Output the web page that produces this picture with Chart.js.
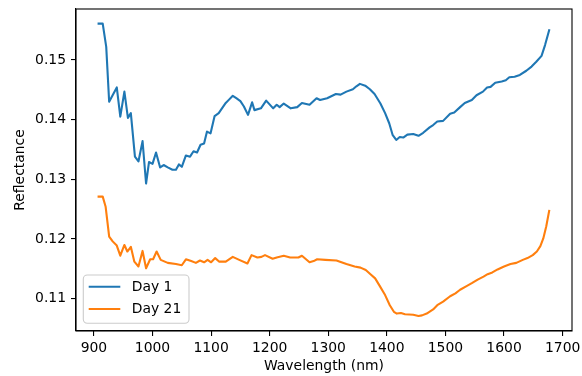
<!DOCTYPE html>
<html>
<head>
<meta charset="utf-8">
<script src="https://cdn.jsdelivr.net/npm/chart.js@4/dist/chart.umd.min.js"></script>
<style>
html,body{margin:0;padding:0;background:#fff;}
canvas{display:block;}
</style>
</head>
<body>
<canvas id="c" width="582" height="376"></canvas>
<script>
const seriesLabels = ["Day 1", "Day 21"];
const wavelengthsDay1 = [908,915,921,926,939,945,952,958,963,970,976,983,989,994,1000,1006,1013,1019,1026,1034,1040,1045,1050,1057,1064,1070,1076,1082,1088,1093,1099,1106,1113,1120,1125,1131,1137,1143,1150,1156,1163,1170,1174,1185,1194,1206,1212,1217,1224,1236,1247,1255,1268,1280,1286,1298,1313,1321,1331,1342,1348,1354,1363,1371,1379,1389,1397,1404,1410,1416,1422,1428,1435,1445,1454,1462,1473,1479,1486,1496,1508,1515,1525,1533,1545,1553,1564,1571,1577,1585,1596,1603,1609,1618,1627,1638,1647,1655,1664,1670,1677];
const reflectanceDay1 = [0.1561,0.1561,0.1522,0.1430,0.1454,0.1405,0.1447,0.1403,0.1411,0.1338,0.1330,0.1364,0.1293,0.1329,0.1326,0.1345,0.1320,0.1324,0.1320,0.1316,0.1316,0.1325,0.1321,0.1340,0.1338,0.1347,0.1345,0.1358,0.1360,0.1380,0.1377,0.1406,0.1411,0.1421,0.1428,0.1434,0.1440,0.1436,0.1431,0.1422,0.1408,0.1429,0.1416,0.1419,0.1432,0.1419,0.1425,0.1421,0.1427,0.1419,0.1421,0.1428,0.1425,0.1436,0.1433,0.1436,0.1443,0.1442,0.1447,0.1451,0.1456,0.1460,0.1457,0.1451,0.1443,0.1427,0.1411,0.1394,0.1374,0.1366,0.1371,0.1370,0.1375,0.1376,0.1373,0.1378,0.1387,0.1391,0.1397,0.1398,0.1410,0.1412,0.1421,0.1428,0.1433,0.1441,0.1447,0.1454,0.1455,0.1462,0.1464,0.1466,0.1471,0.1472,0.1475,0.1482,0.1489,0.1497,0.1507,0.1525,0.1550];
const wavelengthsDay21 = [908,915,920,926,932,939,945,952,957,963,969,976,983,989,996,1001,1007,1014,1026,1040,1050,1057,1066,1074,1081,1088,1094,1100,1107,1114,1125,1137,1148,1162,1169,1179,1186,1192,1205,1212,1224,1235,1249,1255,1268,1275,1281,1295,1314,1320,1331,1345,1355,1364,1372,1380,1388,1397,1405,1412,1417,1424,1431,1445,1454,1460,1468,1479,1486,1496,1508,1517,1525,1536,1545,1555,1565,1572,1580,1589,1600,1611,1621,1632,1640,1649,1656,1662,1667,1672,1677];
const reflectanceDay21 = [0.1271,0.1271,0.1254,0.1204,0.1196,0.1189,0.1172,0.1190,0.1179,0.1187,0.1162,0.1154,0.1180,0.1151,0.1166,0.1166,0.1179,0.1165,0.1160,0.1158,0.1156,0.1166,0.1163,0.1160,0.1164,0.1161,0.1165,0.1161,0.1168,0.1162,0.1162,0.1170,0.1165,0.1159,0.1173,0.1169,0.1170,0.1173,0.1167,0.1169,0.1172,0.1169,0.1169,0.1172,0.1161,0.1163,0.1166,0.1165,0.1164,0.1162,0.1158,0.1154,0.1152,0.1148,0.1141,0.1134,0.1121,0.1106,0.1089,0.1078,0.1075,0.1076,0.1074,0.1073,0.1071,0.1072,0.1075,0.1082,0.1089,0.1095,0.1104,0.1109,0.1115,0.1121,0.1126,0.1132,0.1137,0.1141,0.1144,0.1149,0.1154,0.1158,0.1160,0.1165,0.1168,0.1173,0.1179,0.1188,0.1201,0.1221,0.1247];
const xTicks = [900,1000,1100,1200,1300,1400,1500,1600,1700];
const yTicks = [0.11,0.12,0.13,0.14,0.15];
const xTitle = "Wavelength (nm)";
const yTitle = "Reflectance";
const colors = ["#1f77b4", "#ff7f0e"];

const FONT = "'DejaVu Sans', sans-serif";
const FS = 13.9;

function pts(xs, ys){ return xs.map((x,i)=>({x:x, y:ys[i]})); }

const framePlugin = {
  id: 'frame',
  afterDatasetsDraw(chart){
    const a = chart.chartArea, ctx = chart.ctx;
    ctx.save();
    ctx.strokeStyle = '#000';
    ctx.lineWidth = 1.1;
    ctx.strokeRect(a.left, a.top, a.right - a.left, a.bottom - a.top);
    ctx.restore();
  }
};

const legendPlugin = {
  id: 'mplLegend',
  afterDraw(chart){
    const ctx = chart.ctx;
    const a = chart.chartArea;
    const bx = a.left + 7.3, by = a.bottom - 56, bw = 105.7, bh = 48.3;
    ctx.save();
    ctx.beginPath();
    ctx.roundRect(bx, by, bw, bh, 4);
    ctx.fillStyle = 'rgba(255,255,255,0.8)';
    ctx.fill();
    ctx.strokeStyle = '#cccccc';
    ctx.lineWidth = 1.1;
    ctx.stroke();
    ctx.font = FS + 'px ' + FONT;
    ctx.textBaseline = 'middle';
    ctx.fillStyle = '#000';
    chart.data.datasets.forEach((ds, i) => {
      const y = by + 11.7 + i * 22.3;
      ctx.beginPath();
      ctx.moveTo(bx + 5.4, y);
      ctx.lineTo(bx + 37, y);
      ctx.strokeStyle = ds.borderColor;
      ctx.lineWidth = 2.08;
      ctx.stroke();
      ctx.fillText(ds.label, bx + 48.4, y + 0.5);
    });
    ctx.restore();
  }
};

new Chart(document.getElementById('c'), {
  type: 'line',
  data: {
    datasets: [
      { label: seriesLabels[0], data: pts(wavelengthsDay1, reflectanceDay1), borderColor: colors[0], backgroundColor: colors[0] },
      { label: seriesLabels[1], data: pts(wavelengthsDay21, reflectanceDay21), borderColor: colors[1], backgroundColor: colors[1] }
    ]
  },
  options: {
    responsive: false,
    animation: false,
    events: [],
    layout: { padding: { top: 9, right: 10, left: 0, bottom: 0 } },
    elements: {
      line: { borderWidth: 2.1, tension: 0, borderJoinStyle: 'round', borderCapStyle: 'square', fill: false },
      point: { radius: 0 }
    },
    plugins: { legend: { display: false }, tooltip: { enabled: false } },
    scales: {
      x: {
        type: 'linear',
        min: 869.4,
        max: 1716,
        afterBuildTicks: s => { s.ticks = xTicks.map(v => ({ value: v })); },
        afterFit: s => { s.height = 45; s.paddingLeft = 0; s.paddingRight = 0; },
        grid: { drawOnChartArea: false, drawTicks: true, tickLength: 5, color: '#000', lineWidth: 1.1 },
        border: { display: true, color: '#000', width: 1.1 },
        ticks: { color: '#000', font: { family: FONT, size: FS }, padding: 4, maxRotation: 0, autoSkip: false, callback: v => String(v) },
        title: { display: true, text: xTitle, color: '#000', font: { family: FONT, size: FS }, padding: { top: 0, bottom: 1 } }
      },
      y: {
        type: 'linear',
        min: 0.10458,
        max: 0.15855,
        afterBuildTicks: s => { s.ticks = yTicks.map(v => ({ value: v })); },
        afterFit: s => { s.width = 76; s.paddingTop = 0; s.paddingBottom = 0; },
        grid: { drawOnChartArea: false, drawTicks: true, tickLength: 5, color: '#000', lineWidth: 1.1 },
        border: { display: true, color: '#000', width: 1.1 },
        ticks: { color: '#000', font: { family: FONT, size: FS }, padding: 5, autoSkip: false, callback: v => v.toFixed(2) },
        title: { display: true, text: yTitle, color: '#000', font: { family: FONT, size: FS }, padding: { top: 12, bottom: 0 } }
      }
    }
  },
  plugins: [framePlugin, legendPlugin]
});
</script>
</body>
</html>
